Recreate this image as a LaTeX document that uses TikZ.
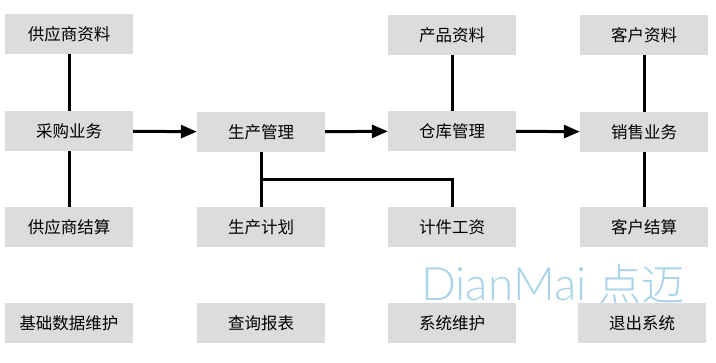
\documentclass[tikz,border=0pt]{standalone}
\usepackage{fontspec}
\setmainfont{Noto Sans CJK SC}
\newfontfamily\wmfont{Lato}[UprightFont=* Light]
\newfontfamily\wmcjk{Noto Sans CJK SC}[UprightFont=* Light]
\usetikzlibrary{arrows.meta}
\definecolor{boxgray}{HTML}{DCDCDC}
\definecolor{wmblue}{HTML}{A9D3E8}
\begin{document}
\begin{tikzpicture}[x=1pt,y=-1pt,
  box/.style={fill=boxgray,minimum width=128pt,minimum height=40pt,inner sep=0pt,font=\fontsize{16.5}{16.5}\selectfont,text=black},
  link/.style={line width=3pt,black},
  arr/.style={line width=3pt,black,-{Triangle[length=16pt,width=13pt]}}]
\useasboundingbox (0,0) rectangle (716,363);
\node[box] (gysz) at (69,34) {供应商资料};
\node[box] (cgyw) at (69,131) {采购业务};
\node[box] (gysj) at (69,227) {供应商结算};
\node[box] (jcsj) at (69,323) {基础数据维护};
\node[box] (scgl) at (261,132) {生产管理};
\node[box] (scjh) at (261,227) {生产计划};
\node[box] (cxbb) at (261,323) {查询报表};
\node[box] (cpzl) at (452,35) {产品资料};
\node[box] (ckgl) at (452,131) {仓库管理};
\node[box] (jjgz) at (452,227) {计件工资};
\node[box] (xtwh) at (452,323) {系统维护};
\node[box] (khzl) at (644,35) {客户资料};
\node[box] (xsyw) at (644,132) {销售业务};
\node[box] (khjs) at (644,227) {客户结算};
\node[box] (tcxt) at (642,323) {退出系统};
\node[text=wmblue,font=\wmfont\fontsize{46}{46}\selectfont,inner sep=0pt,anchor=base west] (wm) at (421,301) {DianMai {\wmcjk\fontsize{43}{43}\selectfont 点迈}};
\draw[link] (gysz) -- (cgyw);
\draw[link] (cgyw) -- (gysj);
\draw[link] (cpzl) -- (ckgl);
\draw[link] (khzl) -- (xsyw);
\draw[link] (xsyw) -- (khjs);
\draw[link] (scgl) -- (scjh);
\coordinate (j1) at (scgl.south |- 0,180);
\draw[link] (j1) -| (jjgz.north);
\draw[arr] (cgyw) -- (scgl);
\draw[arr] (scgl) -- (ckgl);
\draw[arr] (ckgl) -- (xsyw);
\end{tikzpicture}
\end{document}
